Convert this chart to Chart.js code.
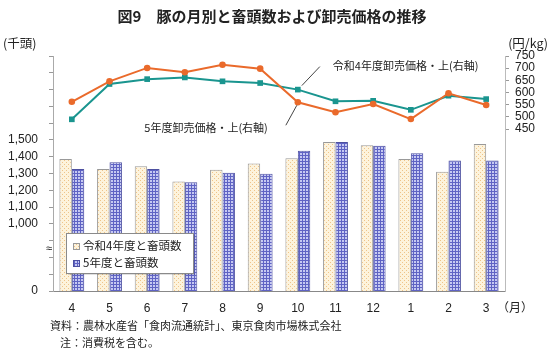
<!DOCTYPE html>
<html><head><meta charset="utf-8">
<script src="https://cdn.jsdelivr.net/npm/chart.js@4"></script>
<style>html,body{margin:0;padding:0;background:#fff;}canvas{display:block;}</style>
</head><body>
<canvas id="c" width="550" height="356"></canvas>
<script>
const months = ['4','5','6','7','8','9','10','11','12','1','2','3'];
const headR4 = [1387,1327,1343,1252,1323,1359,1391,1487,1468,1387,1311,1476];
const headR5 = [1327,1367,1327,1248,1304,1298,1436,1487,1466,1421,1377,1377];
const priceR4 = [490,635,655,662,646,639,612,564,566,529,587,573];
const priceR5 = [562,646,701,683,714,698,560,519,553,491,597,549];
const leftTickLabels = {600:'0',1000:'1,000',1100:'1,100',1200:'1,200',1300:'1,300',1400:'1,400',1500:'1,500'};
const rightTicks = [450,500,550,600,650,700,750];
const labels = {
  title:'図9　豚の月別と畜頭数および卸売価格の推移',
  leftUnit:'(千頭)', rightUnit:'(円/kg)', xUnit:'（月）',
  barR4:'令和4年度と畜頭数', barR5:'5年度と畜頭数',
  lineR4:'令和4年度卸売価格・上(右軸)', lineR5:'5年度卸売価格・上(右軸)',
  src:'資料：農林水産省「食肉流通統計」、東京食肉市場株式会社',
  note:'注：消費税を含む。'
};
const JP = '"Noto Sans CJK JP", "Noto Sans", sans-serif';
const LAT = '"Liberation Sans", Arial, sans-serif';

function makePattern(kind){
  const p = document.createElement('canvas');
  const ctx = p.getContext('2d');
  if(kind==='cream'){
    p.width=4;p.height=4;
    ctx.fillStyle='#fdf3dc';ctx.fillRect(0,0,4,4);
    ctx.fillStyle='#eec48a';ctx.fillRect(0,0,1,1);ctx.fillRect(2,2,1,1);
  } else {
    p.width=3;p.height=3;
    ctx.fillStyle='#c6c9f2';ctx.fillRect(0,0,3,3);
    ctx.fillStyle='#5f63c4';ctx.fillRect(0,2,3,1);ctx.fillRect(2,0,1,3);
  }
  return ctx.createPattern(p,'repeat');
}
const creamPat = makePattern('cream');
const bluePat = makePattern('blue');

const decor = {
  id:'decor',
  afterDatasetsDraw(chart){
    const ctx = chart.ctx;
    const bx=66, by=233, bw=127, bh=40;
    ctx.save();
    ctx.fillStyle='rgba(0,0,0,0.12)';ctx.fillRect(bx+2,by+2,bw,bh);
    ctx.fillStyle='#fff';ctx.fillRect(bx,by,bw,bh);
    ctx.strokeStyle='#8a8a8a';ctx.lineWidth=1;ctx.strokeRect(bx+0.5,by+0.5,bw,bh);
    const items=[[labels.barR4,creamPat,'#999',246],[labels.barR5,bluePat,'#4d50a0',263]];
    ctx.font='11.5px '+JP;ctx.textBaseline='middle';ctx.textAlign='left';
    items.forEach(([t,pat,bc,y])=>{
      ctx.fillStyle=pat;ctx.fillRect(73,y-3,6,6);
      ctx.strokeStyle=bc;ctx.strokeRect(73.5,y-2.5,6,6);
      ctx.fillStyle='#222';ctx.fillText(t,83,y);
    });
    ctx.restore();
  },
  afterDraw(chart){
    const ctx = chart.ctx;
    const ys = chart.scales.y, ca = chart.chartArea;
    ctx.save();
    ctx.fillStyle='#222';
    ctx.font='bold 15px '+JP;ctx.textAlign='center';ctx.textBaseline='middle';
    ctx.fillText(labels.title,272,16);
    ctx.font='12.5px '+JP;ctx.textAlign='left';
    ctx.fillText(labels.leftUnit,3,43);
    ctx.textAlign='right';
    ctx.fillText(labels.rightUnit,548,43);
    ctx.textAlign='left';
    ctx.font='12px '+JP;
    ctx.fillText(labels.xUnit,497,307);
    ctx.font='11px '+JP;
    ctx.fillText(labels.src,50,326);
    ctx.fillText(labels.note,60,343);
    ctx.font='11px '+LAT;ctx.textAlign='center';
    ctx.fillText('≈',ca.left-4,ys.getPixelForValue(850));
    const m4 = chart.getDatasetMeta(2).data[6];
    const m5 = chart.getDatasetMeta(3).data[6];
    ctx.strokeStyle='#444';ctx.lineWidth=1;
    ctx.beginPath();ctx.moveTo(m4.x+22,m4.y-23);ctx.lineTo(m4.x+4,m4.y-4);ctx.stroke();
    ctx.beginPath();ctx.moveTo(m5.x-12,m5.y+23);ctx.lineTo(m5.x-1,m5.y+3);ctx.stroke();
    ctx.font='11px '+JP;ctx.textAlign='left';ctx.fillStyle='#222';
    ctx.fillText(labels.lineR4,m4.x+35,m4.y-24);
    ctx.textAlign='right';
    ctx.fillText(labels.lineR5,m5.x-30,m5.y+26);
    ctx.restore();
  }
};

new Chart(document.getElementById('c'),{
  data:{
    labels:months,
    datasets:[
      {type:'bar',label:labels.barR4,data:headR4,yAxisID:'y',backgroundColor:creamPat,borderColor:'#999',borderWidth:1,barPercentage:1,categoryPercentage:0.66,order:3},
      {type:'bar',label:labels.barR5,data:headR5,yAxisID:'y',backgroundColor:bluePat,borderColor:'#4d50a0',borderWidth:1,barPercentage:1,categoryPercentage:0.66,order:3},
      {type:'line',label:labels.lineR4,data:priceR4,yAxisID:'y1',borderColor:'#1a958f',backgroundColor:'#1a958f',borderWidth:2,pointStyle:'rect',pointRadius:4,pointBorderWidth:0,order:2},
      {type:'line',label:labels.lineR5,data:priceR5,yAxisID:'y1',borderColor:'#ea6a2b',backgroundColor:'#ea6a2b',borderWidth:2,pointStyle:'circle',pointRadius:3.3,pointBorderWidth:0,order:1}
    ]
  },
  options:{
    responsive:false,animation:false,devicePixelRatio:1,
    layout:{padding:{top:56,left:0,right:0,bottom:0}},
    plugins:{legend:{display:false},tooltip:{enabled:false},title:{display:false}},
    scales:{
      x:{grid:{display:false,drawTicks:false},border:{display:true,color:'#888'},
         ticks:{padding:10,color:'#222',font:{size:12,family:LAT}},
         afterFit(s){s.height=65;}},
      y:{position:'left',min:600,max:2000,
         afterBuildTicks(s){const t=[];for(let v=600;v<=2000;v+=100)t.push({value:v});s.ticks=t;},
         ticks:{autoSkip:false,padding:11,color:'#222',font:{size:12,family:LAT},callback(v){return leftTickLabels[v]||'';}},
         grid:{drawOnChartArea:false,drawTicks:true,tickLength:4,color:'#999'},
         border:{display:true,color:'#aaa'},
         afterFit(s){s.width=53;}},
      y1:{position:'right',min:-215,max:750,
         afterBuildTicks(s){s.ticks=rightTicks.map(v=>({value:v}));},
         ticks:{autoSkip:false,padding:6,color:'#222',font:{size:12,family:LAT}},
         grid:{drawOnChartArea:false,drawTicks:true,tickLength:4,color:'#999'},
         border:{display:true,color:'#bbb'},
         afterFit(s){s.width=45;}}
    }
  },
  plugins:[decor]
});
</script>
</body></html>
